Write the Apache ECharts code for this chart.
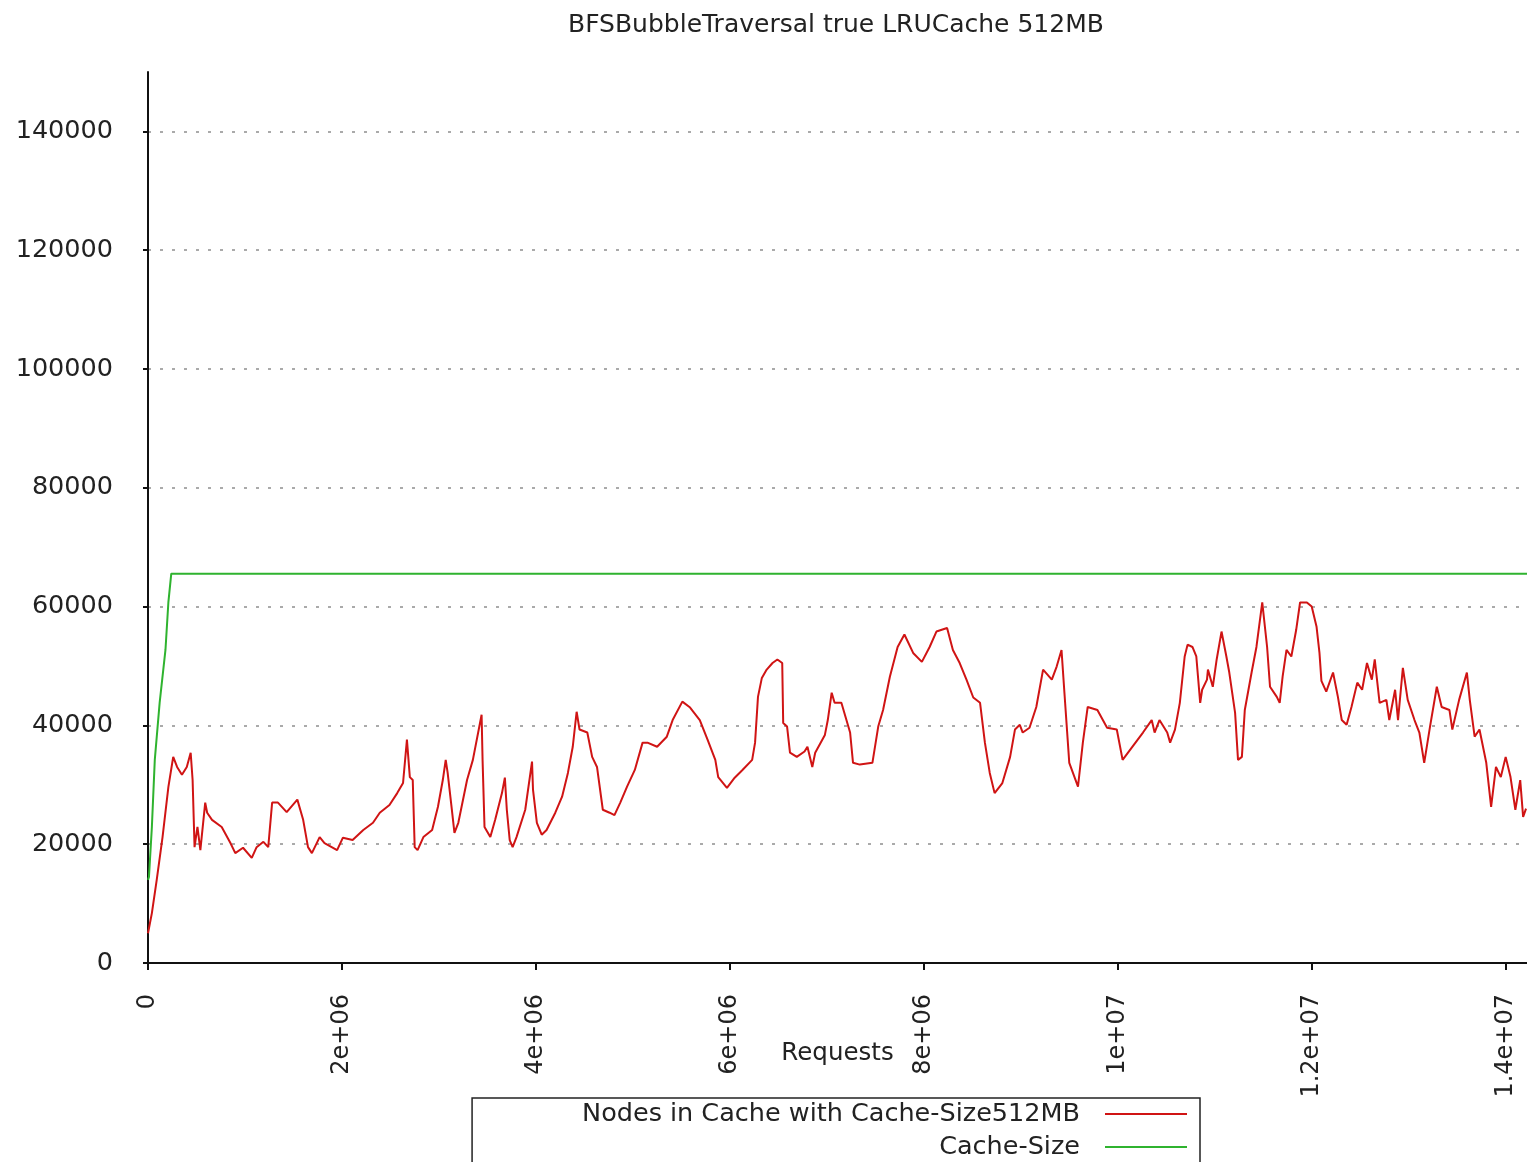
<!DOCTYPE html>
<html>
<head>
<meta charset="utf-8">
<script src="https://cdn.jsdelivr.net/npm/echarts@6/dist/echarts.min.js"></script>
<style>
html,body{margin:0;padding:0;background:#fff;}
#chart{width:1527px;height:1162px;}
</style>
</head>
<body>
<div id="chart"></div>
<script>
const chartTitle = 'BFSBubbleTraversal true LRUCache 512MB';
const xAxisName = 'Requests';
const seriesNames = ['Nodes in Cache with Cache-Size512MB', 'Cache-Size'];

// Requests (millions) and nodes in cache for the red series
const nodesRequestsM = [0,0.02,0.04,0.09,0.15,0.21,0.25,0.26,0.30,0.35,0.40,0.44,0.46,0.48,0.51,0.54,0.59,0.61,0.66,0.76,0.85,0.90,0.98,1.07,1.12,1.19,1.24,1.28,1.34,1.43,1.54,1.60,1.65,1.69,1.77,1.82,1.95,2.01,2.11,2.22,2.32,2.39,2.49,2.57,2.63,2.67,2.70,2.73,2.75,2.78,2.84,2.93,2.99,3.04,3.07,3.09,3.13,3.16,3.20,3.29,3.35,3.44,3.45,3.47,3.53,3.58,3.65,3.68,3.70,3.73,3.76,3.80,3.89,3.96,3.97,4.01,4.06,4.11,4.20,4.27,4.33,4.38,4.42,4.45,4.53,4.58,4.63,4.69,4.76,4.81,4.87,4.94,5.02,5.10,5.15,5.25,5.35,5.41,5.51,5.59,5.69,5.77,5.85,5.88,5.97,6.05,6.13,6.23,6.26,6.29,6.33,6.38,6.44,6.49,6.54,6.55,6.59,6.62,6.69,6.77,6.80,6.85,6.88,6.98,7.01,7.05,7.08,7.15,7.24,7.27,7.34,7.47,7.53,7.58,7.65,7.73,7.80,7.89,7.98,8.06,8.13,8.24,8.30,8.37,8.44,8.51,8.58,8.63,8.68,8.73,8.81,8.89,8.94,8.99,9.02,9.09,9.16,9.23,9.32,9.37,9.42,9.45,9.50,9.59,9.64,9.69,9.79,9.89,9.99,10.05,10.15,10.26,10.35,10.38,10.43,10.51,10.54,10.59,10.64,10.69,10.72,10.77,10.81,10.85,10.87,10.92,10.93,10.98,11.02,11.07,11.12,11.15,11.21,11.24,11.28,11.31,11.38,11.43,11.49,11.54,11.57,11.64,11.67,11.70,11.74,11.79,11.84,11.88,11.95,12.00,12.05,12.08,12.10,12.15,12.22,12.27,12.31,12.36,12.41,12.47,12.52,12.57,12.62,12.65,12.70,12.77,12.80,12.86,12.89,12.94,12.99,13.06,13.11,13.16,13.22,13.29,13.34,13.42,13.45,13.52,13.60,13.63,13.68,13.73,13.80,13.85,13.90,13.95,14.00,14.05,14.10,14.15,14.18,14.21];
const nodesInCache = [5000,4800,8400,14000,21200,29600,33700,34700,33000,31700,33000,35400,30800,19500,22900,19000,27000,25300,24100,22900,20200,18500,19400,17700,19500,20400,19500,27000,27000,25400,27500,24100,19500,18500,21200,20200,19000,21100,20700,22400,23600,25300,26600,28600,30300,37600,31300,30800,19500,19000,21200,22400,26300,30800,34200,32000,26300,21900,23600,30800,34200,41800,34200,22900,21200,24100,28600,31200,25800,20700,19500,21200,25800,33900,29200,23600,21600,22400,25300,28000,32000,36400,42300,39300,38800,34700,33000,25800,25300,24900,27000,29700,32500,37100,37100,36400,38100,40900,44000,43000,40900,37600,34200,31300,29500,31200,32500,34200,37100,44800,48000,49400,50500,51100,50500,40400,39800,35400,34700,35600,36400,33000,35400,38400,40900,45500,43800,43800,38800,33700,33400,33700,39800,42600,48200,53200,55300,52200,50700,53200,55800,56400,52700,50500,47700,44700,43800,37100,32000,28600,30300,34700,39300,40100,38800,39600,43100,49400,47700,49900,52700,45500,33700,29700,37100,43100,42600,39600,39300,34200,36400,38800,40900,38800,40900,38800,37100,39300,43800,51600,53600,53200,51600,43800,46000,47700,49400,46500,51100,55800,51600,48900,42100,34200,34700,42600,48900,53200,60700,53200,46500,44800,43800,48200,52700,51600,56100,60700,60700,60000,56600,52200,47500,45700,48900,44800,40900,40100,43100,47200,46000,50500,47700,51100,43800,44300,40900,46000,40900,49700,44300,40900,38800,33700,39800,46500,43100,42600,39300,44300,48900,44300,38100,39300,33700,26300,33000,31300,34700,31300,25800,30800,24600,26000];

// Requests (millions) and cache size for the green series
const cacheRequestsM = [0,0.01,0.04,0.07,0.12,0.18,0.21,0.24,14.22];
const cacheSize = [14000,14500,22900,34200,43800,52700,60700,65536,65536];

const xMaxM = 14.22;
const yMax = 150000;
const yInterval = 20000;
const xIntervalM = 2;

function sciLabel(v) {
  if (v === 0) return '0';
  return v.toExponential().replace(/e([+-])(\d)$/, 'e$10$2');
}

const chart = echarts.init(document.getElementById('chart'), null, {renderer: 'canvas'});
const FONT = 'DejaVu Sans';
chart.setOption({
  animation: false,
  backgroundColor: '#ffffff',
  title: {
    text: chartTitle,
    left: 563,
    top: 8,
    textStyle: {fontFamily: FONT, fontSize: 25, fontWeight: 'normal', color: '#222'}
  },
  grid: {left: 148, right: 0, top: 72, bottom: 199, containLabel: false},
  legend: {
    data: seriesNames,
    orient: 'vertical',
    align: 'right',
    right: 327,
    top: 1098,
    height: 80,
    padding: [3, 13, 3, 110],
    itemGap: 7,
    itemWidth: 82,
    itemHeight: 2,
    icon: 'rect',
    borderColor: '#222',
    borderWidth: 1.5,
    selectedMode: false,
    textStyle: {fontFamily: FONT, fontSize: 25.5, color: '#222', lineHeight: 25, padding: [0, 20, 0, 0]}
  },
  xAxis: {
    type: 'value',
    min: 0,
    max: xMaxM * 1e6,
    interval: xIntervalM * 1e6,
    name: xAxisName,
    nameLocation: 'middle',
    nameGap: 78,
    nameMoveOverlap: false,
    nameTextStyle: {fontFamily: FONT, fontSize: 24.5, color: '#222'},
    axisLine: {show: true, onZero: false, lineStyle: {color: '#111', width: 2}},
    axisTick: {show: true, length: 7, lineStyle: {color: '#111', width: 2}},
    axisLabel: {
      rotate: 90,
      margin: 31,
      showMaxLabel: false,
      fontFamily: FONT,
      fontSize: 24,
      color: '#222',
      formatter: sciLabel
    },
    splitLine: {show: false}
  },
  yAxis: {
    type: 'value',
    min: 0,
    max: yMax,
    interval: yInterval,
    axisLine: {show: true, lineStyle: {color: '#111', width: 2}},
    axisTick: {show: true, length: 5, lineStyle: {color: '#111', width: 2}},
    axisLabel: {
      margin: 35,
      showMaxLabel: false,
      fontFamily: FONT,
      fontSize: 25.5,
      color: '#222',
      formatter: v => String(v)
    },
    splitLine: {
      show: true,
      showMinLine: false,
      showMaxLine: false,
      lineStyle: {color: '#aaa', width: 2, type: [3, 9]}
    }
  },
  series: [
    {
      name: seriesNames[0],
      type: 'line',
      symbol: 'none',
      color: '#d01414',
      lineStyle: {width: 2, color: '#d01414'},
      data: nodesRequestsM.map((x, i) => [x * 1e6, nodesInCache[i]])
    },
    {
      name: seriesNames[1],
      type: 'line',
      symbol: 'none',
      color: '#2fb32f',
      lineStyle: {width: 2, color: '#2fb32f'},
      data: cacheRequestsM.map((x, i) => [x * 1e6, cacheSize[i]])
    }
  ]
});
</script>
</body>
</html>
